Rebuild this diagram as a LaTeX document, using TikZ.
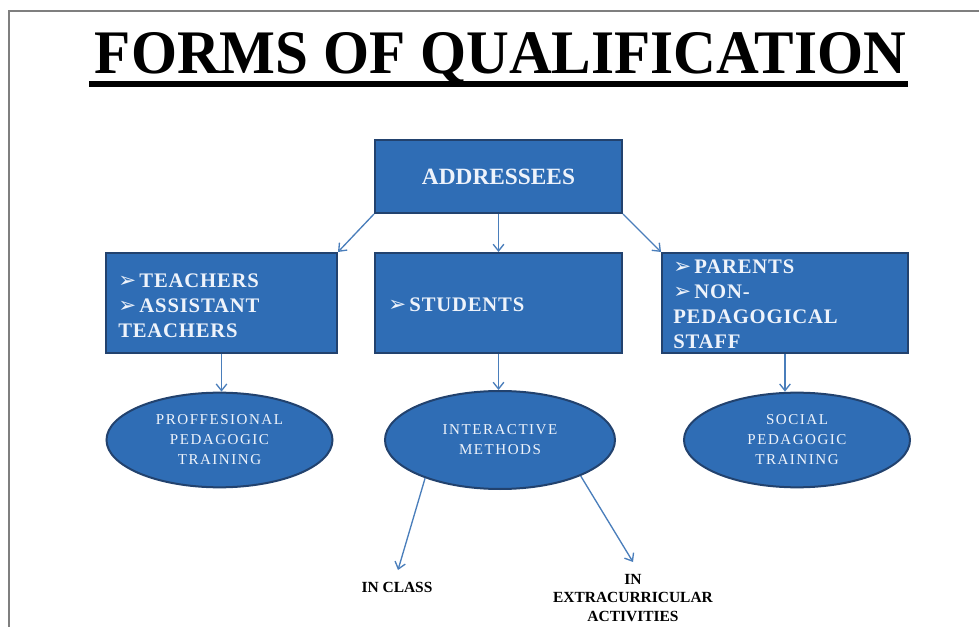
\documentclass[tikz,border=0pt]{standalone}
\usepackage{fontspec}
\usepackage{graphicx}
\setmainfont{Liberation Serif}
\newfontfamily\dingf{DejaVu Sans}
\newfontfamily\spacedf[LetterSpace=10]{Liberation Serif}
\newfontfamily\spacedbf[LetterSpace=4]{Liberation Serif Bold}
\usetikzlibrary{shapes.geometric,arrows.meta}
\definecolor{boxfill}{HTML}{2F6DB5}
\definecolor{boxedge}{HTML}{22426E}
\definecolor{boxtext}{HTML}{EEF3FB}
\definecolor{arrowcol}{HTML}{4A7EBB}
\definecolor{framecol}{HTML}{7F7F7F}
\newcommand{\bul}{{\dingf\fontsize{16pt}{12pt}\selectfont ➢}\hspace{2.5pt}}
\tikzset{
  bluebox/.style={draw=boxedge, line width=1.5pt, fill=boxfill, rectangle, inner sep=0pt},
  blueell/.style={draw=boxedge, line width=1.5pt, fill=boxfill, ellipse, inner sep=0pt,
     text=boxtext, align=center, font=\spacedf\fontsize{11.3pt}{15pt}\selectfont},
  boxlabel/.style={text=boxtext, align=left, inner sep=0pt, anchor=west,
     font=\spacedbf\fontsize{15.5pt}{18.75pt}\selectfont},
  botlabel/.style={text=black, align=center, inner sep=0pt,
     font=\bfseries\fontsize{11.6pt}{14pt}\selectfont},
  conn/.style={draw=arrowcol, line width=1pt, -{Straight Barb[length=5pt,width=8pt]}},
}
\begin{document}
\begin{tikzpicture}[x=0.75pt,y=-0.75pt]
\useasboundingbox (0,0) rectangle (979,627);
% frame
\draw[framecol, line width=1.5pt] (9,627) -- (9,11) -- (979,11);
% title
\node[inner sep=0pt, anchor=base] (title) at (500.5,74)
  {\resizebox{608.25pt}{30.75pt}{\bfseries FORMS OF QUALIFICATION}};
\fill[black] (89,81) rectangle (908,87);
% boxes
\node[bluebox, minimum width=185.25pt, minimum height=54.75pt, text=boxtext,
      font=\bfseries\fontsize{17.5pt}{20pt}\selectfont] (addr) at (498.5,176.5) {ADDRESSEES};
\node[bluebox, minimum width=173.25pt, minimum height=75pt] (teach) at (221.5,303) {};
\node[bluebox, minimum width=185.25pt, minimum height=75pt] (stud) at (498.5,303) {};
\node[bluebox, minimum width=184.5pt, minimum height=75pt] (par) at (785,303) {};
\node[boxlabel] (teachT) at (118,306) {\bul TEACHERS\\\bul ASSISTANT\\TEACHERS};
\node[boxlabel] (studT) at (388,305) {\bul STUDENTS};
\node[boxlabel] (parT) at (673,304.5) {\bul PARENTS\\\bul NON-\\PEDAGOGICAL\\STAFF};
% ellipses
\node[blueell, minimum width=169.5pt, minimum height=71pt] (prof) at (219.5,440)
  {PROFFESIONAL\\PEDAGOGIC\\TRAINING};
\node[blueell, minimum width=172.5pt, minimum height=73.5pt] (inter) at (500,440)
  {INTERACTIVE\\METHODS};
\node[blueell, minimum width=169.5pt, minimum height=71pt] (social) at (797,440)
  {SOCIAL\\PEDAGOGIC\\TRAINING};
% bottom labels
\node[botlabel] (inclass) at (397,587) {IN CLASS};
\node[botlabel] (extra) at (633,598) {IN\\EXTRACURRICULAR\\ACTIVITIES};
\coordinate (inclassTip) at (398,570);
\coordinate (extraTip) at (633,562);
% connectors
\draw[conn] (addr.south west) -- (teach.north east);
\draw[conn] (addr.south) -- (stud.north);
\draw[conn] (addr.south east) -- (par.north west);
\draw[conn] (teach.south) -- (teach.south |- prof.north);
\draw[conn] (stud.south) -- (stud.south |- inter.north);
\draw[conn] (par.south) -- (par.south |- social.north);
\draw[conn] (inter.207) -- (inclassTip);
\draw[conn] (inter.336) -- (extraTip);
\end{tikzpicture}
\end{document}
